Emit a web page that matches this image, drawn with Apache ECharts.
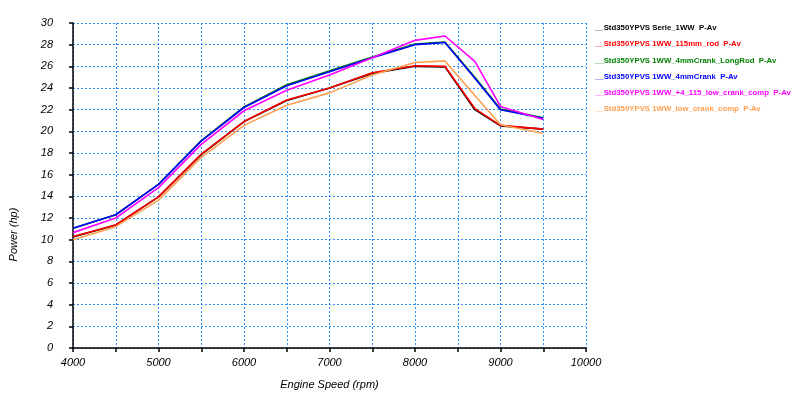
<!DOCTYPE html>
<html><head><meta charset="utf-8">
<script src="https://cdn.jsdelivr.net/npm/echarts@6/dist/echarts.min.js"></script>
<style>html,body{margin:0;padding:0;background:#fff}#c{width:799px;height:395px}</style>
</head><body><div id="c"></div>
<script>
const rpm = [4000,4500,5000,5500,6000,6500,7000,7500,8000,8350,8700,9000,9500];
const serieNames = [
  'Std350YPVS Serie_1WW  P-Av',
  'Std350YPVS 1WW_115mm_rod  P-Av',
  'Std350YPVS 1WW_4mmCrank_LongRod  P-Av',
  'Std350YPVS 1WW_4mmCrank  P-Av',
  'Std350YPVS 1WW_+4_115_low_crank_comp  P-Av',
  'Std350YPVS 1WW_low_crank_comp  P-Av'
];
const black  = [10.25, 11.35, 13.95, 17.85, 20.9, 22.85, 24.0, 25.35, 26.0, 25.95, 22.0, 20.5, 20.2];
const red    = [10.3, 11.35, 13.95, 17.9, 20.9, 22.9, 24.0, 25.4, 26.05, 26.0, 22.1, 20.55, 20.2];
const green  = [11.05, 12.3, 15.1, 19.15, 22.25, 24.3, 25.6, 26.85, 28.05, 28.25, 25.0, 22.05, 21.25];
const blue   = [11.05, 12.3, 15.1, 19.1, 22.2, 24.2, 25.5, 26.8, 28.0, 28.2, 24.9, 22.0, 21.2];
const pink   = [10.65, 12.0, 14.8, 18.8, 21.9, 23.8, 25.2, 26.8, 28.4, 28.8, 26.45, 22.3, 21.1];
const orange = [10.0, 11.2, 13.65, 17.6, 20.55, 22.4, 23.55, 25.2, 26.35, 26.5, 23.3, 20.6, 19.8];
const xTicks = [4000,5000,6000,7000,8000,9000,10000];

const values = [black, red, green, blue, pink, orange];
const colors = ['#000000','#ff0000','#008000','#0000ff','#ff00ff','#ffa050'];
const font = '"Liberation Sans", Arial, sans-serif';
const gridColor = '#2a8fff';

const chart = echarts.init(document.getElementById('c'), null, {renderer:'canvas'});
chart.setOption({
  backgroundColor: '#fff',
  animation: false,
  grid: {left: 68, right: 213, top: 23, bottom: 44, containLabel: false},
  legend: {
    orient: 'vertical', left: 590, top: 23, itemGap: 7.2,
    icon: 'none', itemWidth: 0, itemHeight: 10, padding: 0,
    formatter: n => '__' + n,
    data: serieNames.map((n,i) => ({name: n, textStyle: {color: colors[i]}})),
    textStyle: {fontFamily: font, fontSize: 7.8, fontWeight: 'bold', padding: 0}
  },
  xAxis: {
    type: 'value', min: 4000, max: 10000, interval: 500,
    name: 'Engine Speed (rpm)', nameLocation: 'middle', nameGap: 31,
    nameTextStyle: {fontFamily: font, fontSize: 11, fontStyle: 'italic', color: '#000'},
    axisLine: {lineStyle: {color: '#000', width: 1.5}},
    axisTick: {show: true, length: 4, lineStyle: {color: '#000', width: 1.5}},
    axisLabel: {fontFamily: font, fontSize: 11, fontStyle: 'italic', color: '#000', margin: 9,
      formatter: v => xTicks.includes(v) ? String(v) : ''},
    splitLine: {show: true, lineStyle: {color: [gridColor], type: [2, 2], width: 1, opacity: 1}}
  },
  yAxis: {
    type: 'value', min: 0, max: 30, interval: 2,
    name: 'Power (hp)', nameLocation: 'middle', nameGap: 54, nameRotate: 90,
    nameTextStyle: {fontFamily: font, fontSize: 11, fontStyle: 'italic', color: '#000', padding: [0, 98, 0, 0]},
    axisLine: {show: true, lineStyle: {color: '#000', width: 1.5}},
    axisTick: {show: true, length: 4, lineStyle: {color: '#000', width: 1.5}},
    axisLabel: {fontFamily: font, fontSize: 11, fontStyle: 'italic', color: '#000', margin: 20},
    splitLine: {show: true, lineStyle: {color: [gridColor], type: [2, 2], width: 1, opacity: 1}}
  },
  series: serieNames.map((n,i) => ({
    name: n, type: 'line', showSymbol: false, symbol: 'none',
    lineStyle: {color: colors[i], width: 1.6},
    itemStyle: {color: colors[i]},
    data: rpm.map((r,j) => [r, values[i][j]])
  }))
});
</script></body></html>
